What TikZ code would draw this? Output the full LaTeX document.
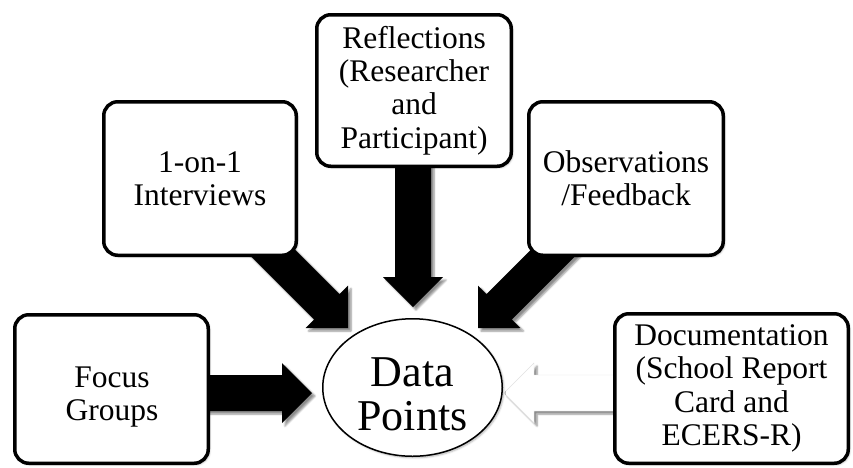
\documentclass[tikz,border=0pt]{standalone}
\usepackage{fontspec}
\setmainfont{Liberation Serif}
\usetikzlibrary{calc,shapes.geometric,shadows.blur}

\tikzset{
  srcbox/.style={draw=black, line width=3.5pt, rounded corners=14pt, fill=white,
    align=center, inner sep=0pt, font=\fontsize{31.5}{33.3}\selectfont,
    blur shadow={shadow xshift=1.5pt, shadow yshift=-1.5pt, shadow blur steps=5, shadow opacity=30}},
  hub/.style={ellipse, draw=black, line width=1.5pt, fill=white, inner sep=0pt,
    blur shadow={shadow xshift=1.5pt, shadow yshift=-1.5pt, shadow blur steps=5, shadow opacity=30}},
  hubtext/.style={align=center, inner sep=0pt, font=\fontsize{44}{44}\selectfont},
  plaintext/.style={align=center, inner sep=0pt, font=\fontsize{31.5}{33.3}\selectfont},
  blackarrow/.style={fill=black,
    blur shadow={shadow xshift=3pt, shadow yshift=-3pt, shadow blur steps=6, shadow opacity=45}},
  whitearrow/.style={fill=white, draw=black!12, line width=0.4pt,
    blur shadow={shadow xshift=3pt, shadow yshift=-3pt, shadow blur steps=6, shadow opacity=45}},
}

% #1 style, #2 start coordinate, #3 tip coordinate
\newcommand\blockarrow[3]{%
  \coordinate (ba-base) at ($(#3)!30pt!(#2)$);
  \path[#1] ($(#2)!18pt!90:(#3)$) -- ($(ba-base)!18pt!90:(#3)$)
    -- ($(ba-base)!30pt!90:(#3)$) -- (#3) -- ($(ba-base)!30pt!-90:(#3)$)
    -- ($(ba-base)!18pt!-90:(#3)$) -- ($(#2)!18pt!-90:(#3)$) -- cycle;
}

\begin{document}
\begin{tikzpicture}[x=1pt,y=-1pt]
\useasboundingbox (0,0) rectangle (853,467);

% arrow end points
\coordinate (fg-out) at (190,393);
\coordinate (fg-in)  at (312,393);
\coordinate (iv-out) at (255,235);
\coordinate (iv-in)  at (348,328);
\coordinate (rf-out) at (413,140);
\coordinate (rf-in)  at (413,307);
\coordinate (ob-out) at (571,235);
\coordinate (ob-in)  at (478,328);
\coordinate (dc-out) at (630,393);
\coordinate (dc-in)  at (504,393);

% arrows
\blockarrow{blackarrow}{fg-out}{fg-in}
\blockarrow{blackarrow}{iv-out}{iv-in}
\blockarrow{blackarrow}{rf-out}{rf-in}
\blockarrow{blackarrow}{ob-out}{ob-in}
\blockarrow{whitearrow}{dc-out}{dc-in}

% source boxes
\node[srcbox, minimum width=193.5pt, minimum height=148.5pt] (fg) at (111.5,389) {};
\node[plaintext] (fgt) at (112,397) {Focus\\Groups};
\node[srcbox, minimum width=192.5pt, minimum height=153.5pt] (iv) at (200,178.5) {1-on-1\\Interviews};
\node[srcbox, minimum width=194.5pt, minimum height=151.5pt] (rf) at (414,90.5) {Reflections\\(Researcher\\and\\Participant)};
\node[srcbox, minimum width=194.5pt, minimum height=153.5pt] (ob) at (626,178.5) {Observations\\/Feedback};
\node[srcbox, minimum width=233.5pt, minimum height=149.5pt] (dc) at (731.5,388.5) {Documentation\\(School Report\\Card and\\ECERS-R)};

% hub
\node[hub, minimum width=179.5pt, minimum height=137.5pt] (dp) at (412.5,387.5) {};
\node[hubtext] (dpt) at (412.5,394) {Data\\Points};
\end{tikzpicture}
\end{document}
